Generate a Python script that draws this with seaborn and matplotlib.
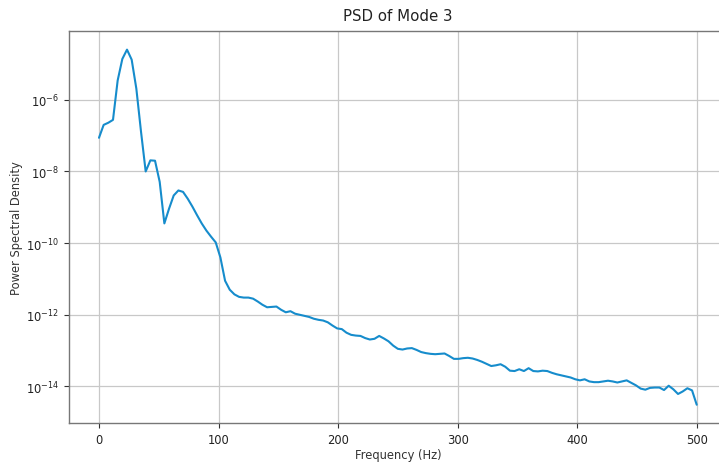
import numpy as np
import pandas as pd
import seaborn as sns
import matplotlib
matplotlib.use("Agg")
import matplotlib.pyplot as plt

# Welch PSD of mode 3: 129 bins, fs = 1000 Hz, nperseg = 256
freq_step = 1000 / 256
log10_psd = [
    -7.06, -6.70, -6.64, -6.56, -5.46, -4.86, -4.60, -4.88, -5.69, -6.89,
    -8.00, -7.69, -7.70, -8.29, -9.45, -9.04, -8.67, -8.53, -8.57, -8.76,
    -8.98, -9.22, -9.45, -9.65, -9.82, -9.98, -10.40, -11.05, -11.30, -11.43,
    -11.50, -11.52, -11.52, -11.55, -11.63, -11.72, -11.79, -11.78, -11.77, -11.86,
    -11.93, -11.90, -11.97, -12.00, -12.03, -12.06, -12.11, -12.14, -12.16, -12.21,
    -12.30, -12.38, -12.40, -12.50, -12.56, -12.58, -12.59, -12.65, -12.69, -12.67,
    -12.59, -12.66, -12.74, -12.86, -12.95, -12.97, -12.94, -12.93, -12.98, -13.04,
    -13.07, -13.09, -13.10, -13.09, -13.08, -13.15, -13.23, -13.23, -13.21, -13.20,
    -13.22, -13.26, -13.31, -13.37, -13.43, -13.41, -13.38, -13.45, -13.56, -13.57,
    -13.52, -13.57, -13.49, -13.57, -13.58, -13.56, -13.57, -13.62, -13.66, -13.69,
    -13.72, -13.75, -13.80, -13.83, -13.80, -13.86, -13.88, -13.88, -13.86, -13.84,
    -13.86, -13.89, -13.86, -13.83, -13.90, -13.97, -14.06, -14.09, -14.04, -14.03,
    -14.03, -14.10, -13.98, -14.08, -14.21, -14.14, -14.05, -14.11, -14.51,
]
frequencies = np.arange(len(log10_psd)) * freq_step
psd = 10.0 ** np.array(log10_psd)

df = pd.DataFrame({"Frequency (Hz)": frequencies, "PSD": psd})

sns.set_style("white")
plt.rcParams["font.family"] = ["DejaVu Sans"]

fig = plt.figure(figsize=(7.19, 4.64), dpi=100)
ax = fig.add_axes([69.1 / 719, 40 / 464, 657.5 / 719, 392 / 464])

sns.lineplot(data=df, x="Frequency (Hz)", y="PSD", ax=ax,
             color="#168ccc", linewidth=1.5)
ax.set_yscale("log")
ax.set_xlim(-25, 525)
ax.set_ylim(10 ** -15.02, 10 ** -4.08)
ax.set_xticks([0, 100, 200, 300, 400, 500])
ax.set_yticks([1e-14, 1e-12, 1e-10, 1e-8, 1e-6])
ax.yaxis.set_minor_locator(matplotlib.ticker.NullLocator())

ax.grid(True, color="#c8c8c8", linewidth=0.9)
for side in ax.spines.values():
    side.set_color("#777777")
    side.set_linewidth(1.0)
ax.tick_params(axis="both", which="major", length=3.5, width=0.8,
               color="#333333", labelsize=8.3, labelcolor="#222222",
               bottom=True, left=True)

ax.set_title("PSD of Mode 3", fontsize=10.8, color="#222222", pad=8)
ax.set_xlabel("Frequency (Hz)", fontsize=8.3, color="#333333", labelpad=1.5)
ax.set_ylabel("Power Spectral Density", fontsize=8.3, color="#333333",
              labelpad=2.5)

fig.savefig("out.png", dpi=100)
